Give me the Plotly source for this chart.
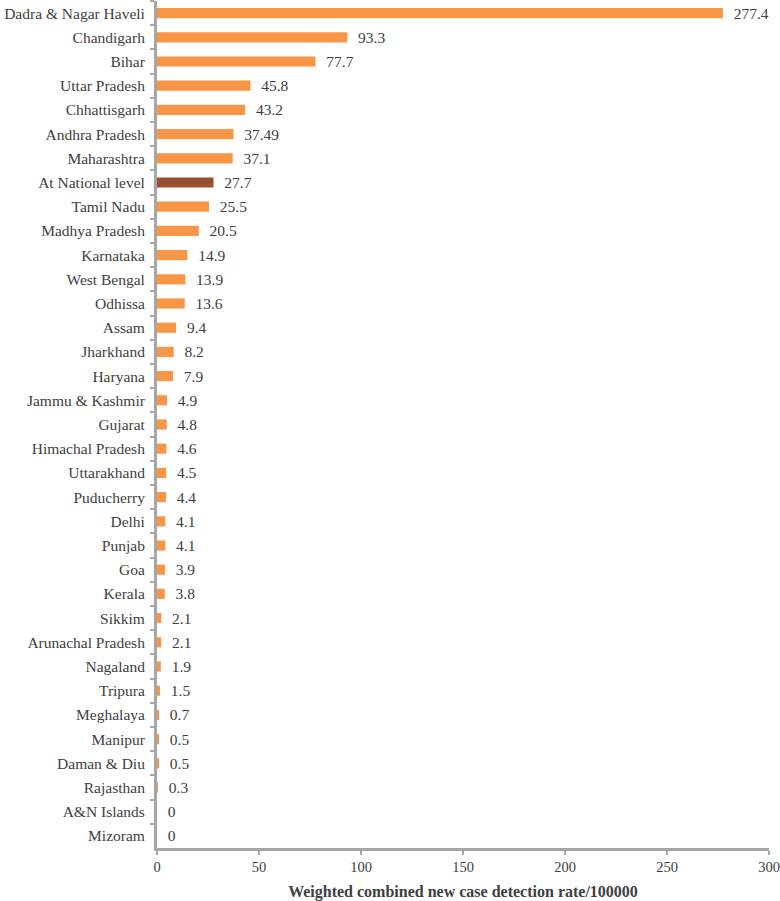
import plotly.graph_objects as go

states = ["Dadra & Nagar Haveli", "Chandigarh", "Bihar", "Uttar Pradesh", "Chhattisgarh",
          "Andhra Pradesh", "Maharashtra", "At National level", "Tamil Nadu", "Madhya Pradesh",
          "Karnataka", "West Bengal", "Odhissa", "Assam", "Jharkhand", "Haryana",
          "Jammu & Kashmir", "Gujarat", "Himachal Pradesh", "Uttarakhand", "Puducherry",
          "Delhi", "Punjab", "Goa", "Kerala", "Sikkim", "Arunachal Pradesh", "Nagaland",
          "Tripura", "Meghalaya", "Manipur", "Daman & Diu", "Rajasthan", "A&N Islands", "Mizoram"]
rates = [277.4, 93.3, 77.7, 45.8, 43.2, 37.49, 37.1, 27.7, 25.5, 20.5, 14.9, 13.9, 13.6,
         9.4, 8.2, 7.9, 4.9, 4.8, 4.6, 4.5, 4.4, 4.1, 4.1, 3.9, 3.8, 2.1, 2.1, 1.9, 1.5,
         0.7, 0.5, 0.5, 0.3, 0, 0]
highlight = "At National level"
x_ticks = [0, 50, 100, 150, 200, 250, 300]

orange = "#F79646"
brown = "#9A4F2E"
colors = [brown if s == highlight else orange for s in states]
labels = ["\u00a0\u00a0" + f"{v:g}" for v in rates]

font_family = "Liberation Serif, Times New Roman, serif"
txt_color = "#404040"
axis_color = "#A6A6A6"

fig = go.Figure(go.Bar(
    x=rates, y=states, orientation="h",
    marker=dict(color=colors, line=dict(width=0)),
    text=labels, textposition="outside", cliponaxis=False, constraintext="none",
    textfont=dict(family=font_family, size=15.5, color=txt_color),
    width=0.42,
))

fig.update_layout(
    width=780, height=901,
    margin=dict(l=157, r=11, t=1, b=53, autoexpand=False),
    plot_bgcolor="white", paper_bgcolor="white",
    showlegend=False,
    font=dict(family=font_family, size=15.5, color=txt_color),
)
fig.update_yaxes(
    type="category", autorange="reversed", automargin=False,
    showline=True, linecolor=axis_color, linewidth=3,
    ticks="outside", tickson="boundaries", ticklen=4, tickwidth=2, tickcolor=axis_color,
    showgrid=False, zeroline=False,
    tickfont=dict(family=font_family, size=15.5, color=txt_color),
    ticklabelstandoff=6,
)
fig.update_xaxes(
    range=[0, 300], tickvals=x_ticks, automargin=False,
    showline=True, linecolor=axis_color, linewidth=3,
    ticks="outside", ticklen=4, tickwidth=2, tickcolor=axis_color,
    showgrid=False, zeroline=False,
    tickfont=dict(family=font_family, size=14.5, color=txt_color),
    title=dict(text="<b>Weighted combined new case detection rate/100000</b>",
               font=dict(family=font_family, size=16, color=txt_color), standoff=12),
)

fig.write_html("out.html", config={"displayModeBar": False},
               post_script="document.body.style.margin='0';")
